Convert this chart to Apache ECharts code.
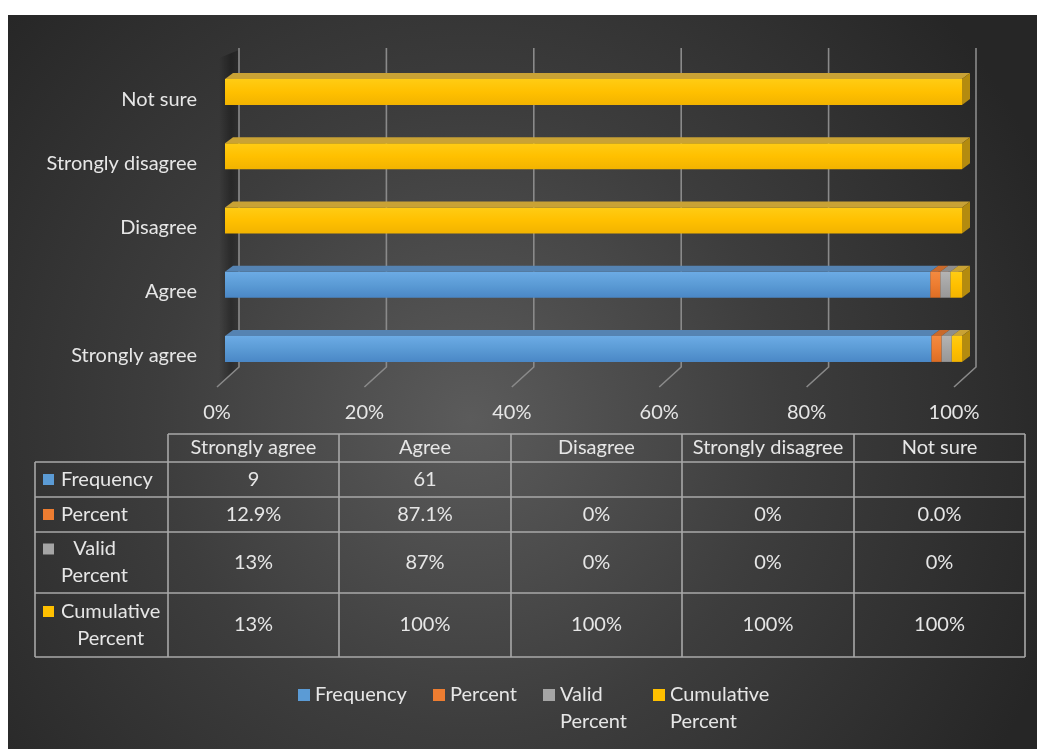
<!DOCTYPE html>
<html>
<head>
<meta charset="utf-8">
<script src="https://cdn.jsdelivr.net/npm/echarts@6/dist/echarts.min.js"></script>
<style>
  html, body { margin: 0; padding: 0; background: #ffffff; }
  #chart { width: 1037px; height: 749px; }
</style>
</head>
<body>
<div id="chart"></div>
<script>
// ---- data ----
const categories = ['Strongly agree', 'Agree', 'Disagree', 'Strongly disagree', 'Not sure'];
const seriesNames = ['Frequency', 'Percent', 'Valid Percent', 'Cumulative Percent'];
const frequency = [9, 61, null, null, null];
const percent = [0.129, 0.871, 0, 0, 0];
const validPercent = [0.13, 0.87, 0, 0, 0];
const cumulativePercent = [0.13, 1, 1, 1, 1];
const xTicks = [0, 20, 40, 60, 80, 100];

// data table texts (one row per series, one column per category)
const frequencyText = ['9', '61', '', '', ''];
const percentText = ['12.9%', '87.1%', '0%', '0%', '0.0%'];
const validPercentText = ['13%', '87%', '0%', '0%', '0%'];
const cumulativePercentText = ['13%', '100%', '100%', '100%', '100%'];
const tableRowLabels = ['Frequency', 'Percent', 'Valid\nPercent', 'Cumulative\nPercent'];
const legendLabels = ['Frequency', 'Percent', 'Valid\nPercent', 'Cumulative\nPercent'];

// ---- styling ----
const FONT = 'Lato, "Open Sans", sans-serif';
const FONT_SIZE = 20;
const TEXT_COLOR = '#e6e6e6';
const GRID_COLOR = '#8a8a8a';
const TABLE_LINE = '#a8a8a8';

const palette = [
  { front: ['#6cabe5', '#5b9bd5', '#4a87c6'], top: '#5583b2', side: '#3f6e9c', key: '#5b9bd5' },
  { front: ['#f38a40', '#ed7d31', '#dc6d24'], top: '#c96a2b', side: '#b45a1f', key: '#ed7d31' },
  { front: ['#b4b4b4', '#a5a5a5', '#979797'], top: '#8d8d8d', side: '#7b7b7b', key: '#a5a5a5' },
  { front: ['#ffcc14', '#ffc000', '#f2b300'], top: '#c9a235', side: '#b48b0f', key: '#ffc000' }
];

// 3D depth of the bar boxes (pixels)
const DEPTH_X = 8, DEPTH_Y = 6;

const seriesValues = [frequency, percent, validPercent, cumulativePercent];
const totals = categories.map((_, i) =>
  seriesValues.reduce((s, arr) => s + (arr[i] || 0), 0));

// 100% stacked segments: [start %, end %, category index]
function stackedSegments(k) {
  return categories.map((_, i) => {
    let start = 0;
    for (let j = 0; j < k; j++) start += (seriesValues[j][i] || 0);
    const v = seriesValues[k][i] || 0;
    return [start / totals[i] * 100, (start + v) / totals[i] * 100, i];
  });
}

function makeBarRenderer(k) {
  const c = palette[k];
  return function (params, api) {
    const start = api.value(0), end = api.value(1), cat = api.value(2);
    if (!(end - start > 0)) return null;
    const p0 = api.coord([start, cat]);
    const p1 = api.coord([end, cat]);
    const band = api.size([0, 1])[1];
    const h = band * 0.405;
    const x0 = p0[0], x1 = p1[0];
    const yT = p0[1] - h / 2, yB = p0[1] + h / 2;
    return {
      type: 'group',
      children: [
        {
          type: 'rect',
          shape: { x: x0, y: yT, width: x1 - x0, height: h },
          style: {
            fill: new echarts.graphic.LinearGradient(0, 0, 0, 1, [
              { offset: 0, color: c.front[0] },
              { offset: 0.5, color: c.front[1] },
              { offset: 1, color: c.front[2] }
            ])
          }
        },
        {
          type: 'polygon',
          shape: { points: [[x0, yT], [x1, yT], [x1 + DEPTH_X, yT - DEPTH_Y], [x0 + DEPTH_X, yT - DEPTH_Y]] },
          style: { fill: c.top }
        },
        {
          type: 'polygon',
          shape: { points: [[x1, yT], [x1 + DEPTH_X, yT - DEPTH_Y], [x1 + DEPTH_X, yB - DEPTH_Y], [x1, yB]] },
          style: { fill: c.side }
        }
      ]
    };
  };
}

// back wall gridlines with their slanted floor ends, plus the wall's shadow
function renderWalls(params, api) {
  const cs = params.coordSys;
  const v = api.value(0);
  const x = api.coord([v, 0])[0];
  const bx = x + 14;
  const topY = cs.y - 12;
  const floorBack = cs.y + cs.height - 14;
  const floorFront = cs.y + cs.height + 6;
  const children = [];
  if (v === 0) {
    children.push({
      type: 'polygon',
      shape: { points: [[bx - 20, topY + 10], [bx, topY + 2], [bx, floorBack], [bx - 20, floorBack + 18]] },
      style: {
        fill: new echarts.graphic.LinearGradient(0, 0, 1, 0, [
          { offset: 0, color: 'rgba(0,0,0,0)' },
          { offset: 0.6, color: 'rgba(0,0,0,0.32)' },
          { offset: 1, color: 'rgba(0,0,0,0.2)' }
        ])
      }
    });
  }
  children.push({
    type: 'polyline',
    shape: { points: [[bx, topY], [bx, floorBack], [x - 8, floorFront]] },
    style: { stroke: GRID_COLOR, lineWidth: 1.6, fill: null }
  });
  return { type: 'group', children };
}

// ---- data table and legend (graphic elements) ----
const measureCtx = document.createElement('canvas').getContext('2d');
measureCtx.font = FONT_SIZE + 'px ' + FONT;
function textWidth(s) {
  return Math.max(...s.split('\n').map(l => measureCtx.measureText(l).width));
}

const tableCols = [35, 168, 339, 511, 682, 854, 1025];
const tableRows = [434, 462, 497, 532, 593, 657];
const LINE_H = 27;

function buildTable() {
  const els = [];
  const rowTexts = [frequencyText, percentText, validPercentText, cumulativePercentText];
  const line = (x1, y1, x2, y2) => ({
    type: 'line', shape: { x1, y1, x2, y2 },
    style: { stroke: TABLE_LINE, lineWidth: 1.6 }
  });
  // horizontal lines
  els.push(line(tableCols[1], tableRows[0], tableCols[6], tableRows[0]));
  for (let r = 1; r < tableRows.length; r++) {
    els.push(line(tableCols[0], tableRows[r], tableCols[6], tableRows[r]));
  }
  // vertical lines
  els.push(line(tableCols[0], tableRows[1], tableCols[0], tableRows[5]));
  for (let c = 1; c < tableCols.length; c++) {
    els.push(line(tableCols[c], tableRows[0], tableCols[c], tableRows[5]));
  }
  const txt = (text, x, y, align) => ({
    type: 'text',
    style: {
      text, x, y, align: align || 'center', verticalAlign: 'middle',
      fill: TEXT_COLOR, font: FONT_SIZE + 'px ' + FONT, lineHeight: LINE_H
    }
  });
  // header row: category names
  categories.forEach((cat, c) => {
    els.push(txt(cat, (tableCols[c + 1] + tableCols[c + 2]) / 2, (tableRows[0] + tableRows[1]) / 2));
  });
  // series rows
  tableRowLabels.forEach((label, r) => {
    const cy = (tableRows[r + 1] + tableRows[r + 2]) / 2;
    const nLines = label.split('\n').length;
    const firstLineY = cy - (nLines - 1) * LINE_H / 2;
    els.push({
      type: 'rect',
      shape: { x: 43, y: firstLineY - 5.5, width: 11, height: 11 },
      style: { fill: palette[r].key }
    });
    const w = textWidth(label);
    els.push(txt(label, 61 + w / 2, cy));
    rowTexts[r].forEach((t, c) => {
      if (t) els.push(txt(t, (tableCols[c + 1] + tableCols[c + 2]) / 2, cy));
    });
  });
  return els;
}

const legendX = [298, 433, 543, 653];
function buildLegend() {
  const els = [];
  const y = 695;
  legendLabels.forEach((label, k) => {
    const x = legendX[k];
    els.push({
      type: 'rect',
      shape: { x: x, y: y - 6, width: 12, height: 12 },
      style: { fill: palette[k].key }
    });
    els.push({
      type: 'text',
      style: {
        text: label, x: x + 17, y: y - LINE_H / 2, align: 'left', verticalAlign: 'top',
        fill: TEXT_COLOR, font: FONT_SIZE + 'px ' + FONT, lineHeight: LINE_H
      }
    });
  });
  return els;
}

const background = {
  type: 'rect',
  z: -10,
  shape: { x: 8, y: 15, width: 1029, height: 734 },
  style: {
    fill: new echarts.graphic.RadialGradient(0.45, 0.55, 0.85, [
      { offset: 0, color: '#5b5b5b' },
      { offset: 0.5, color: '#3d3d3d' },
      { offset: 1, color: '#262626' }
    ])
  }
};

const chart = echarts.init(document.getElementById('chart'), null, { renderer: 'canvas' });

const option = {
  backgroundColor: '#ffffff',
  animation: false,
  textStyle: { fontFamily: FONT },
  grid: {
    left: 225, top: 60, width: 737, height: 321,
    containLabel: false, outerBoundsMode: 'none'
  },
  xAxis: {
    type: 'value', min: 0, max: 100, interval: 20,
    axisLine: { show: false }, axisTick: { show: false },
    splitLine: { show: false },
    axisLabel: {
      formatter: v => v + '%', color: TEXT_COLOR, fontSize: FONT_SIZE,
      fontFamily: FONT, margin: 22, padding: [0, 16, 0, 0]
    }
  },
  yAxis: {
    type: 'category', data: categories,
    axisLine: { show: false }, axisTick: { show: false },
    splitLine: { show: false },
    axisLabel: {
      color: TEXT_COLOR, fontSize: FONT_SIZE, fontFamily: FONT,
      margin: 28, verticalAlign: 'top', lineHeight: 14
    }
  },
  graphic: [background].concat(buildTable(), buildLegend()),
  series: [
    {
      type: 'custom', name: 'walls', silent: true, z: 1,
      renderItem: renderWalls,
      encode: { x: 0, y: 1 },
      data: xTicks.map(v => [v, 0])
    }
  ].concat(seriesNames.map((name, k) => ({
    type: 'custom', name, z: 2 + k,
    renderItem: makeBarRenderer(k),
    encode: { x: [0, 1], y: 2 },
    itemStyle: { color: palette[k].key },
    data: stackedSegments(k)
  })))
};

chart.setOption(option);
</script>
</body>
</html>
